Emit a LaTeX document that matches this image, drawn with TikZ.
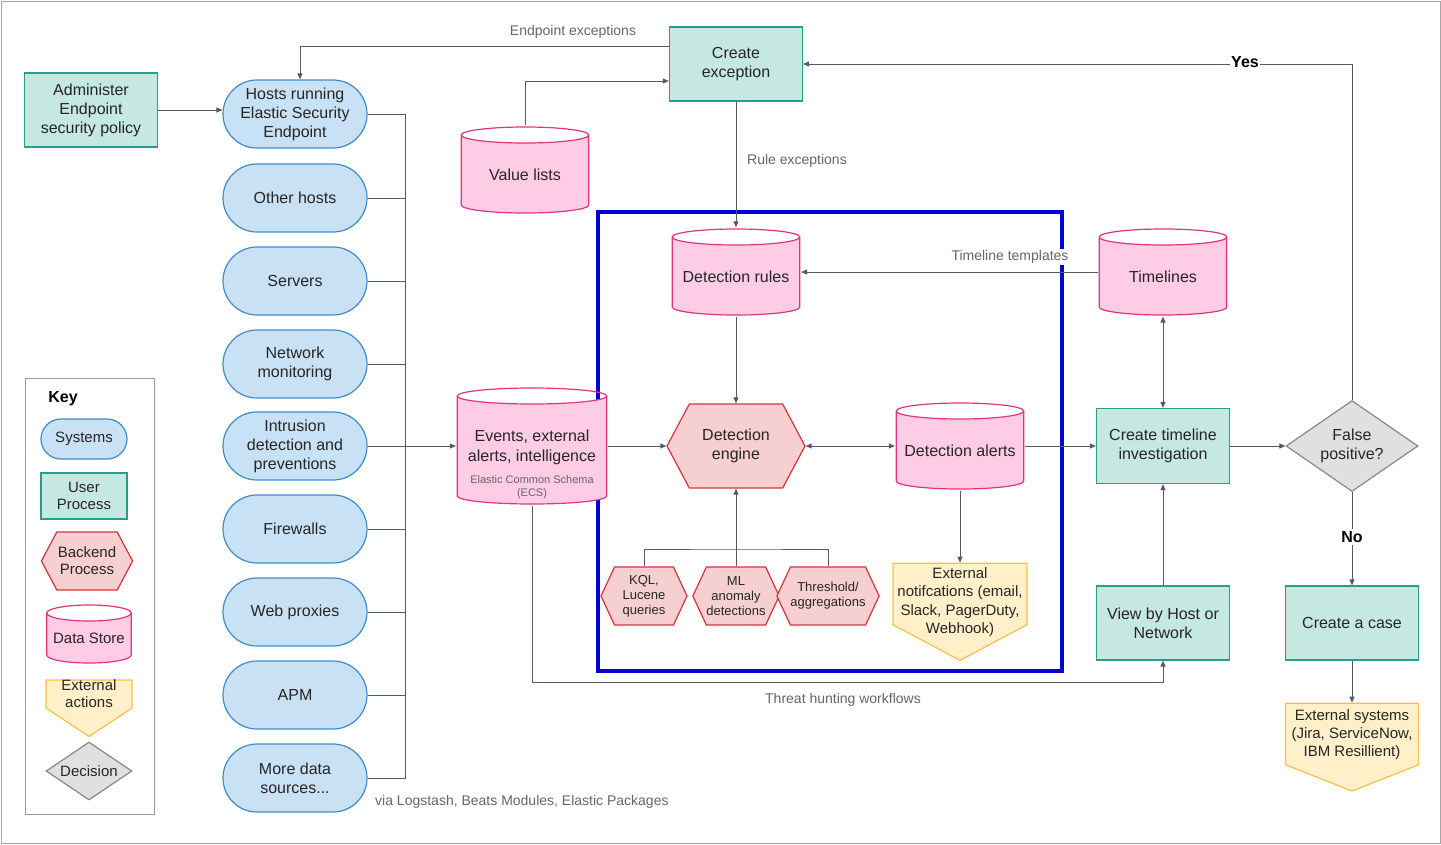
\documentclass[tikz,border=0pt]{standalone}
\usepackage{fontspec}
\setmainfont{Liberation Sans}
\usetikzlibrary{shapes.geometric,shapes.symbols,shapes.misc,arrows.meta,calc}
\definecolor{sysF}{HTML}{C9E1F5}\definecolor{sysD}{HTML}{3F8BCB}
\definecolor{usrF}{HTML}{C5E8E1}\definecolor{usrD}{HTML}{2A9D8A}
\definecolor{bkF}{HTML}{F6CFD0}\definecolor{bkD}{HTML}{D8333C}
\definecolor{dsF}{HTML}{FFCCE5}\definecolor{dsD}{HTML}{E2347C}
\definecolor{exF}{HTML}{FFF0C9}\definecolor{exD}{HTML}{F4C145}
\definecolor{dcF}{HTML}{E0E0E0}\definecolor{dcD}{HTML}{888888}
\definecolor{ln}{HTML}{545966}\definecolor{lbl}{HTML}{666666}
\begin{document}
\begin{tikzpicture}[x=1pt,y=-1pt,
  base/.style={font=\fontsize{16}{19}\selectfont,align=center,inner sep=1pt,line width=1.2pt,text=black!85},
  sys/.style={base,rectangle,rounded corners=#1,fill=sysF,draw=sysD,minimum width=144pt,minimum height=68pt},
  sys/.default=34pt,
  usr/.style={base,rectangle,fill=usrF,draw=usrD,minimum width=133pt,minimum height=74pt},
  bk/.style={base,signal,signal to=east and west,fill=bkF,draw=bkD},
  ds/.style={base,rectangle,minimum width=129pt,minimum height=88pt,
    path picture={\path let \p1=(path picture bounding box.north west), \p2=(path picture bounding box.south east),
      \n1={(\x2-\x1)/2-0.7pt} in
      [fill=dsF,draw=dsD,line width=1.2pt] (\x1+0.7pt,\y1-9pt) -- (\x1+0.7pt,\y2+9pt)
        arc[start angle=180,end angle=360,x radius=\n1,y radius=8pt] -- (\x2-0.7pt,\y1-9pt)
        arc[start angle=0,end angle=180,x radius=\n1,y radius=8pt] -- cycle
      (\x1+0.7pt,\y1-9pt) arc[start angle=180,end angle=-180,x radius=\n1,y radius=8pt];}},
  ex/.style={base,signal,signal to=south,signal from=nowhere,fill=exF,draw=exD},
  dc/.style={base,diamond,fill=dcF,draw=dcD,aspect=1.45},
  conn/.style={draw=ln,line width=0.9pt},
  arr/.style={conn,-{Triangle[length=6pt,width=5pt]}},
  lab/.style={font=\fontsize{14}{16}\selectfont,text=lbl,inner sep=1pt}]
\useasboundingbox (0,0) rectangle (1441,844);
\draw[gray!70,line width=1pt] (1,1) rectangle (1440,843);

% systems
\node[usr] (adm) at (91,110) {Administer\\Endpoint\\security policy};
\node[sys] (h1) at (295,114) {Hosts running\\Elastic Security\\Endpoint};
\node[sys] (h2) at (295,198) {Other hosts};
\node[sys] (h3) at (295,281) {Servers};
\node[sys] (h4) at (295,364) {Network\\monitoring};
\node[sys] (h5) at (295,446) {Intrusion\\detection and\\preventions};
\node[sys] (h6) at (295,529) {Firewalls};
\node[sys] (h7) at (295,612) {Web proxies};
\node[sys] (h8) at (295,695) {APM};
\node[sys] (h9) at (295,778) {More data\\sources...};
\draw[arr] (adm.east) -- (adm.east -| h1.west);
\coordinate (bt) at (405,114);
\coordinate (bb) at (405,778);
\coordinate (bm) at (405,446);
\draw[conn] (h1.east) -- (bt) -- (bb) -- (h9.east);
\foreach \n in {h2,h3,h4,h5,h6,h7,h8} \draw[conn] (\n.east) -- (\n.east -| bt);
\node[lab,anchor=west] (via) at (374,802) {via Logstash, Beats Modules, Elastic Packages};

% blue box
\draw[blue!85!black,line width=4pt] (598,212) rectangle (1062,671);

% data stores
\node[ds,minimum width=151pt,minimum height=118pt] (ev) at (532,446) {};
\node[base,font=\fontsize{16}{20}\selectfont] (evt) at (532,447) {Events, external\\alerts, intelligence};
\node[base,font=\fontsize{11}{13}\selectfont,text=lbl] (ecs) at (532,487) {Elastic Common Schema\\(ECS)};
\node[ds] (vl) at (525,170) {\\[2pt]Value lists};
\node[ds] (dr) at (736,272) {\\[2pt]Detection rules};
\node[ds] (tl) at (1163,272) {\\[2pt]Timelines};
\node[ds] (da) at (960,446) {\\[2pt]Detection alerts};
\draw[arr] (bm) -- (ev.west);

% create exception
\node[usr] (ce) at (736,64) {Create\\exception};
\coordinate (vlc) at (525,81);
\draw[arr] (vl.north) -- (vlc) -- (vlc -| ce.west);
\coordinate (epc) at (300,46);
\draw[arr] (ce.west |- epc) -- (epc) -- (h1.north -| epc);
\node[lab] at (573,32) {Endpoint exceptions};
\draw[arr] (ce.south) -- (dr.north);
\node[lab] at (797,161) {Rule exceptions};
\draw[arr] (tl.west) -- (dr.east);
\node[lab,fill=white] at (1010,257) {Timeline templates};

% engine
\node[bk,minimum width=138pt,minimum height=84pt,signal pointer angle=124] (eng) at (736,446) {Detection\\engine};
\draw[arr] (dr.south) -- (eng.north);
\draw[arr] (ev.east) -- (eng.west);
\draw[arr,{Triangle[length=6pt,width=5pt]}-{Triangle[length=6pt,width=5pt]}] (eng.east) -- (da.west);

\tikzset{sm/.style={bk,font=\fontsize{13}{15}\selectfont,minimum width=86pt,minimum height=58pt,signal pointer angle=130,inner sep=0pt}}
\node[sm] (k1) at (644,596) {KQL,\\Lucene\\queries};
\node[sm] (k2) at (736,596) {ML\\anomaly\\detections};
\node[sm] (k3) at (828,596) {Threshold/\\aggregations};
\coordinate (kj) at (736,549);
\draw[arr] (k2.north) -- (eng.south);
\draw[conn] (k1.north) |- (kj) -| (k3.north);

\node[ex,minimum width=134pt,minimum height=62pt,signal pointer angle=124] (en) at (960,594) {};
\node[base,font=\fontsize{15}{18.5}\selectfont] (ent) at (960,602) {External\\notifcations (email,\\Slack, PagerDuty,\\Webhook)};
\draw[arr] (da.south) -- (en.north);

% right side
\node[usr,minimum height=75pt] (ct) at (1163,446) {Create timeline\\investigation};
\draw[arr] (da.east) -- (ct.west);
\draw[arr,{Triangle[length=6pt,width=5pt]}-{Triangle[length=6pt,width=5pt]}] (ct.north) -- (tl.south);
\node[usr] (vh) at (1163,623) {View by Host or\\Network};
\draw[arr] (vh.north) -- (ct.south);
\coordinate (th) at (532,682);
\draw[arr] (ev.south) -- (th) -| (vh.south);
\node[lab] at (843,700) {Threat hunting workflows};

\node[dc,minimum width=132pt,minimum height=91pt,inner sep=0pt] (fp) at (1352,446) {False\\positive?};
\draw[arr] (ct.east) -- (fp.west);
\coordinate (yc) at (1352,64);
\draw[arr] (fp.north) -- (yc) -- (ce.east);
\node[font=\bfseries\fontsize{16}{18}\selectfont,fill=white,inner sep=1pt] at (1245,62) {Yes};
\node[usr] (cc) at (1352,623) {Create a case};
\draw[arr] (fp.south) -- (cc.north);
\node[font=\bfseries\fontsize{16}{18}\selectfont,fill=white,inner sep=2pt] at (1352,537) {No};
\node[ex,minimum width=133pt,minimum height=62pt,signal pointer angle=137] (es) at (1352,734) {};
\node[base,font=\fontsize{15}{18}\selectfont] (est) at (1352,735) {External systems\\(Jira, ServiceNow,\\IBM Resillient)};
\draw[arr] (cc.south) -- (es.north);

% key
\draw[gray!80,line width=1pt] (25,378) rectangle (154,814);
\node[font=\bfseries\fontsize{16}{18}\selectfont] at (63,399) {Key};
\tikzset{kf/.style={font=\fontsize{15}{17}\selectfont}}
\node[sys=20pt,kf,minimum width=86pt,minimum height=40pt] (ks) at (84,439) {Systems};
\node[usr,kf,minimum width=86pt,minimum height=46pt] (ku) at (84,496) {User\\Process};
\node[bk,kf,minimum width=90pt,minimum height=58pt,signal pointer angle=124] (kb) at (87,561) {Backend\\Process};
\node[ds,kf,minimum width=86pt,minimum height=60pt] (kd) at (89,634) {\\[2pt]Data Store};
\node[ex,kf,minimum width=86pt,minimum height=30pt,inner sep=0pt,signal pointer angle=113] (ke) at (89,694) {External\\actions};
\node[dc,kf,minimum width=86pt,minimum height=58pt,inner sep=0pt] (kdc) at (89,771) {Decision};
\end{tikzpicture}
\end{document}
